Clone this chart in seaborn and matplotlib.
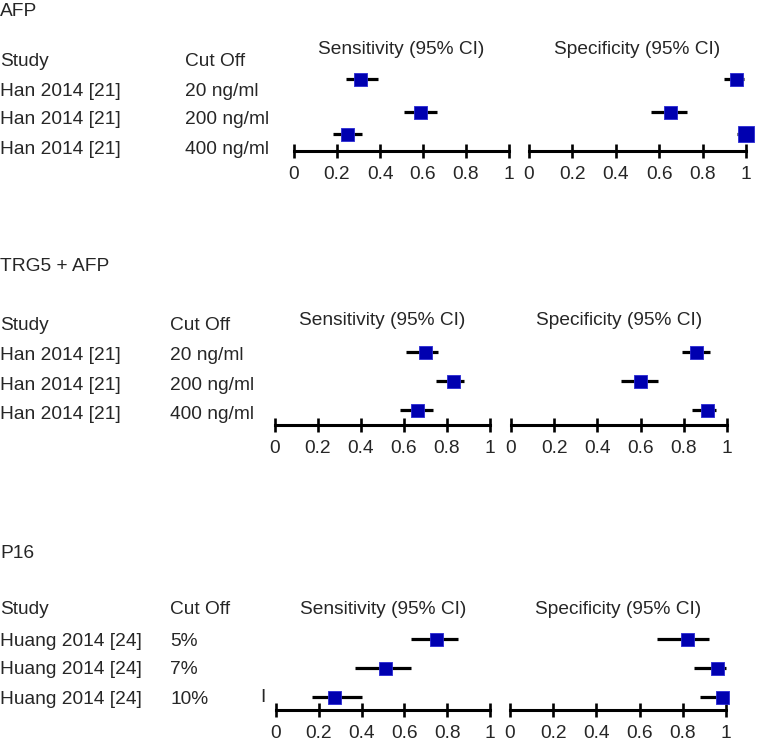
import numpy as np
import pandas as pd
import matplotlib
matplotlib.use("Agg")
import matplotlib.pyplot as plt
import seaborn as sns

# ---- data ----
panel_titles = ["AFP", "TRG5 + AFP", "P16"]

afp_studies = ["Han 2014 [21]", "Han 2014 [21]", "Han 2014 [21]"]
afp_cutoffs = ["20 ng/ml", "200 ng/ml", "400 ng/ml"]
afp_sens = [0.31, 0.59, 0.25]
afp_sens_lo = [0.24, 0.51, 0.18]
afp_sens_hi = [0.39, 0.665, 0.315]
afp_spec = [0.955, 0.65, 1.0]
afp_spec_lo = [0.90, 0.56, 0.96]
afp_spec_hi = [0.99, 0.73, 1.0]

trg_studies = ["Han 2014 [21]", "Han 2014 [21]", "Han 2014 [21]"]
trg_cutoffs = ["20 ng/ml", "200 ng/ml", "400 ng/ml"]
trg_sens = [0.70, 0.83, 0.665]
trg_sens_lo = [0.61, 0.75, 0.58]
trg_sens_hi = [0.76, 0.88, 0.735]
trg_spec = [0.86, 0.60, 0.91]
trg_spec_lo = [0.79, 0.51, 0.84]
trg_spec_hi = [0.92, 0.68, 0.95]

p16_studies = ["Huang 2014 [24]", "Huang 2014 [24]", "Huang 2014 [24]"]
p16_cutoffs = ["5%", "7%", "10%"]
p16_sens = [0.75, 0.51, 0.275]
p16_sens_lo = [0.63, 0.37, 0.17]
p16_sens_hi = [0.85, 0.63, 0.40]
p16_spec = [0.82, 0.96, 0.985]
p16_spec_lo = [0.68, 0.85, 0.88]
p16_spec_hi = [0.92, 1.0, 1.0]

# study weights shown as marker side (px)
afp_sens_w = [13, 13, 13]
afp_spec_w = [13, 13, 15.5]
trg_sens_w = [13, 13, 13]
trg_spec_w = [13, 13, 13]
p16_sens_w = [13, 13, 13]
p16_spec_w = [13, 13, 13]

tick_vals = [0, 0.2, 0.4, 0.6, 0.8, 1]
tick_labels = ["0", "0.2", "0.4", "0.6", "0.8", "1"]


def frame(studies, cutoffs, est, lo, hi, w):
    return pd.DataFrame({"study": studies, "cutoff": cutoffs, "est": est,
                         "lo": lo, "hi": hi, "w": w})


panels = [
    (frame(afp_studies, afp_cutoffs, afp_sens, afp_sens_lo, afp_sens_hi, afp_sens_w),
     frame(afp_studies, afp_cutoffs, afp_spec, afp_spec_lo, afp_spec_hi, afp_spec_w)),
    (frame(trg_studies, trg_cutoffs, trg_sens, trg_sens_lo, trg_sens_hi, trg_sens_w),
     frame(trg_studies, trg_cutoffs, trg_spec, trg_spec_lo, trg_spec_hi, trg_spec_w)),
    (frame(p16_studies, p16_cutoffs, p16_sens, p16_sens_lo, p16_sens_hi, p16_sens_w),
     frame(p16_studies, p16_cutoffs, p16_spec, p16_spec_lo, p16_spec_hi, p16_spec_w)),
]

# ---- layout in pixels ----
W, H = 768, 741
layout = [
    dict(title_y=12, head_y=62, cut_x=185, ci_head_y=49, text_y=[91, 120, 149],
         row_y=[79, 112, 134], axis_y=151, sens=(294, 509), spec=(529, 746)),
    dict(title_y=267, head_y=325, cut_x=170, ci_head_y=320, text_y=[355, 385, 414],
         row_y=[352, 381, 410], axis_y=425, sens=(275, 490), spec=(511, 727)),
    dict(title_y=553, head_y=610, cut_x=170, ci_head_y=610, text_y=[642, 670, 700],
         row_y=[639, 668, 697], axis_y=710, sens=(276, 490), spec=(510, 726)),
]

sns.set_style("white")
plt.rcParams["font.family"] = ["Liberation Sans", "DejaVu Sans"]
FS = 13.8
BLUE = "#0000b0"
EDGE = "#2a2ad4"

fig = plt.figure(figsize=(W / 100, H / 100), dpi=100)


def ftext(x, y, s, **kw):
    fig.text(x / W, 1 - y / H, s, fontsize=FS, va="center", **kw)


for title, (sens_df, spec_df), lay in zip(panel_titles, panels, layout):
    ftext(0, lay["title_y"], title, ha="left")
    ftext(0, lay["head_y"], "Study", ha="left")
    ftext(lay["cut_x"], lay["head_y"], "Cut Off", ha="left")
    for ty, st, co in zip(lay["text_y"], sens_df["study"], sens_df["cutoff"]):
        ftext(0, ty, st, ha="left")
        ftext(lay["cut_x"], ty, co, ha="left")

    for df, (x0, x1), head in [(sens_df, lay["sens"], "Sensitivity (95% CI)"),
                               (spec_df, lay["spec"], "Specificity (95% CI)")]:
        top = lay["axis_y"] - 90
        ax = fig.add_axes([x0 / W, 1 - lay["axis_y"] / H, (x1 - x0) / W,
                           (lay["axis_y"] - top) / H])
        ax.set_facecolor("none")
        ax.set_xlim(0, 1)
        ax.set_ylim(lay["axis_y"], top)
        d = df.assign(y=lay["row_y"])
        ax.hlines(d["y"], d["lo"], d["hi"], color="black", lw=2.3,
                  clip_on=False, zorder=2)
        sns.scatterplot(data=d, x="est", y="y", marker="s",
                        s=(d["w"] * 0.72) ** 2, color=BLUE, edgecolor=EDGE,
                        linewidth=0.6, clip_on=False, zorder=3, ax=ax,
                        legend=False)
        for side in ["top", "right", "left"]:
            ax.spines[side].set_visible(False)
        ax.spines["bottom"].set_linewidth(2.2)
        ax.spines["bottom"].set_color("black")
        ax.set_xticks(tick_vals)
        ax.set_xticklabels(tick_labels)
        ax.set_yticks([])
        ax.tick_params(axis="x", bottom=True, direction="inout", length=10,
                       width=1.9, pad=5.5, labelsize=FS, color="black")
        ax.set_xlabel("")
        ax.set_ylabel("")
        ftext((x0 + x1) / 2, lay["ci_head_y"], head, ha="center")

# stray bar left of the P16 sensitivity axis in the original
ftext(263, 698, "I", ha="center")

fig.savefig("out.png", dpi=100)
